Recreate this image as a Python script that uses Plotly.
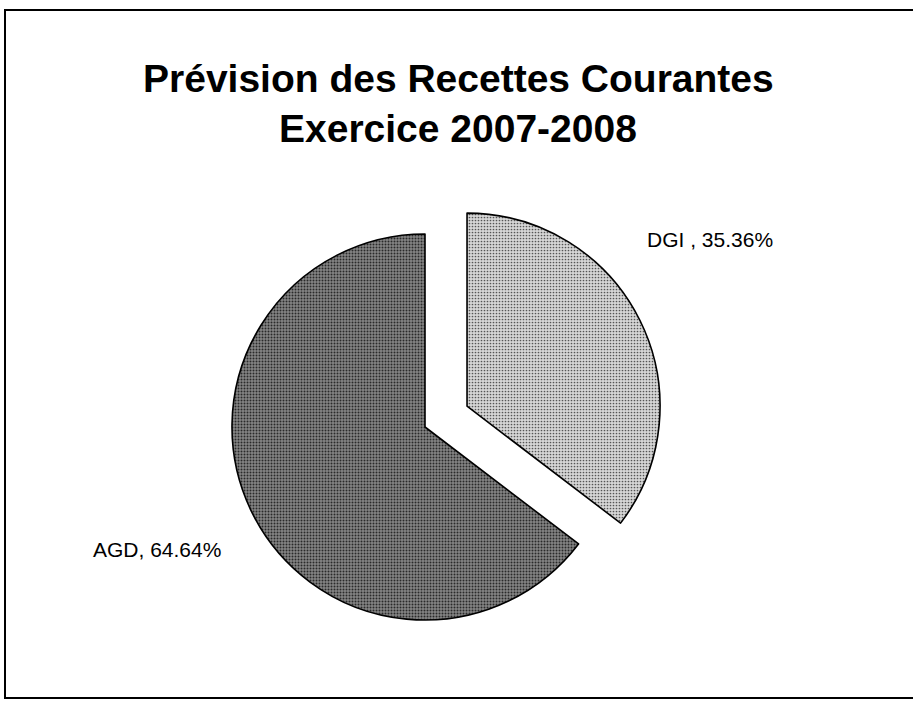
import plotly.graph_objects as go

# Data
labels = ["DGI", "AGD"]
values = [35.36, 64.64]
label_seps = [" , ", ", "]
title_lines = ["Prévision des Recettes Courantes", "Exercice 2007-2008"]

W, H = 913, 707

fig = go.Figure()
fig.add_trace(go.Pie(
    labels=labels,
    values=values,
    sort=False,
    direction="clockwise",
    rotation=0,
    pull=[0.243, 0],
    textinfo="none",
    hoverinfo="label+percent",
    showlegend=False,
    domain=dict(x=[0.2027, 0.7283], y=[0.0567, 0.7354]),
    marker=dict(
        colors=["#cdcdcd", "#777777"],
        line=dict(color="black", width=1.6),
        pattern=dict(
            shape=[".", "."],
            fgcolor=["#555555", "#2a2a2a"],
            bgcolor=["#d6d6d6", "#858585"],
            size=[3, 3],
            solidity=[0.25, 0.35],
            fillmode="replace",
        ),
    ),
))

label_font = dict(family="Liberation Sans, Arial, sans-serif", size=21, color="black")
title_font = dict(family="Liberation Sans, Arial, sans-serif", size=39, color="black")

# slice labels
label_pos = [(645, 240, "left"), (223, 549, "right")]
for lab, sep, v, (px, py, anc) in zip(labels, label_seps, values, label_pos):
    fig.add_annotation(
        text=f"{lab}{sep}{v:.2f}%", x=px / W, y=1 - py / H, xref="paper", yref="paper",
        xanchor=anc, yanchor="middle", showarrow=False, font=label_font,
    )

# title lines
for line, py in zip(title_lines, [78, 129]):
    fig.add_annotation(
        text=f"<b>{line}</b>", x=458 / W, y=1 - py / H, xref="paper", yref="paper",
        xanchor="center", yanchor="middle", showarrow=False, font=title_font,
    )

# chart border
fig.add_shape(type="rect", xref="paper", yref="paper",
              x0=5 / W, x1=916 / W, y0=1 - 698 / H, y1=1 - 10 / H,
              line=dict(color="black", width=2))

fig.update_layout(
    width=W, height=H,
    margin=dict(l=0, r=0, t=0, b=0),
    paper_bgcolor="white",
    plot_bgcolor="white",
)

fig.write_html("out.html",
               config={"displayModeBar": False},
               post_script="document.body.style.margin='0';document.body.style.overflow='hidden';")
